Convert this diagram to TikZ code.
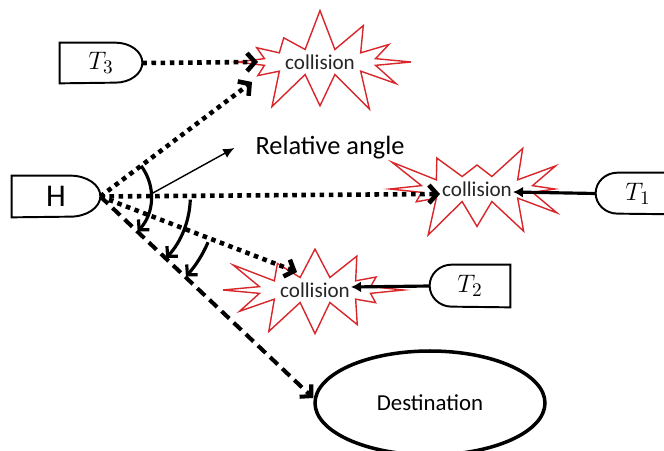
\documentclass[tikz,border=0pt]{standalone}
\usepackage{fontspec}
\setmainfont{Carlito}
\usetikzlibrary{shapes.symbols,shapes.geometric,arrows.meta}
\begin{document}
\begin{tikzpicture}[x=1cm,y=1cm,
  gatebox/.style={minimum width=1.7cm, minimum height=0.82cm, inner sep=0pt, font=\fontsize{15}{17}\selectfont},
  gateline/.style={line width=1.1pt},
  boom/.style={starburst, draw=CrashRed, fill=white, line width=0.8pt, starburst points=12,
    starburst point height=0.85cm, minimum width=4.0cm, minimum height=1.7cm, inner sep=1pt,
    font=\fontsize{12}{14}\selectfont, text=black!85},
  dotarrow/.style={line width=2.6pt, dash pattern=on 2.6pt off 2.6pt,
    -{Straight Barb[length=0.16cm, width=0.36cm]}},
  dasharrow/.style={line width=2.3pt, dash pattern=on 6pt off 3.5pt,
    -{Straight Barb[length=0.16cm, width=0.34cm]}},
  hitarrow/.style={line width=1.8pt, -{Latex[length=0.2cm, width=0.22cm]}},
  anglearc/.style={line width=1.8pt, -{Straight Barb[length=0.14cm, width=0.3cm]}}]
\definecolor{CrashRed}{HTML}{D8262B}
\useasboundingbox (0,0) rectangle (13.28,9);
\clip (0,0) rectangle (13.28,9);
% collision zones
\node[boom, random starburst=7] (hit3) at (6.4,7.76) {collision};
\node[boom, random starburst=23] (hit1) at (9.54,5.22) {collision};
\node[boom, random starburst=41] (hit2) at (6.3,3.2) {collision};
% vehicles
\node[gatebox, minimum width=1.76cm] (H) at (1.12,5.07) {\fontsize{18}{20}\selectfont H};
\draw[gateline] (H.north west) -- ([xshift=-0.6cm]H.north east)
  arc[start angle=90, end angle=-90, x radius=0.6cm, y radius=0.41cm] -- (H.south west) -- cycle;
\node[gatebox, minimum width=1.64cm, minimum height=0.8cm] (T3) at (2.02,7.74) {$T_3$};
\draw[gateline] (T3.north west) -- ([xshift=-0.54cm]T3.north east)
  arc[start angle=90, end angle=-90, x radius=0.54cm, y radius=0.4cm] -- (T3.south west) -- cycle;
\node[gatebox, minimum width=1.68cm] (T1) at (12.76,5.13) {$T_1$};
\draw[gateline] (T1.north east) -- ([xshift=0.44cm]T1.north west)
  arc[start angle=90, end angle=270, x radius=0.44cm, y radius=0.41cm] -- (T1.south east) -- cycle;
\node[gatebox, minimum width=1.6cm, minimum height=0.84cm] (T2) at (9.4,3.28) {$T_2$};
\draw[gateline] (T2.north east) -- ([xshift=0.44cm]T2.north west)
  arc[start angle=90, end angle=270, x radius=0.44cm, y radius=0.42cm] -- (T2.south east) -- cycle;
\node[ellipse, draw, line width=2pt, minimum width=4.6cm, minimum height=2.08cm,
  font=\fontsize{13}{15}\selectfont] (dest) at (8.6,0.94) {Destination};
\node[font=\fontsize{15}{18}\selectfont] (rel) at (6.6,6.04) {Relative angle};
% paths
\draw[dotarrow] (T3.east) -- ([xshift=-1.24cm]hit3.center);
\draw[dotarrow] (H.east) -- ([xshift=-1.36cm,yshift=-0.4cm]hit3.center);
\draw[dotarrow] (H.east) -- ([xshift=-0.74cm,yshift=-0.1cm]hit1.center);
\draw[dotarrow] (H.east) -- ([xshift=-0.36cm,yshift=0.36cm]hit2.center);
\draw[dasharrow] (H.east) -- ([yshift=0.1cm]dest.west);
\draw[hitarrow] (T1.west) -- ([xshift=0.72cm,yshift=-0.06cm]hit1.center);
\draw[hitarrow] (T2.west) -- ([xshift=0.72cm,yshift=0.06cm]hit2.center);
% angles
\draw[anglearc] ([shift={(37:1.02)}]H.east) arc[start angle=37, end angle=-43, radius=1.02];
\draw[anglearc] ([shift={(-2:1.8)}]H.east) arc[start angle=-2, end angle=-43, radius=1.8];
\draw[anglearc] ([shift={(-23:2.34)}]H.east) arc[start angle=-23, end angle=-43, radius=2.34];
\coordinate (ang) at ([xshift=0.96cm,yshift=0.02cm]H.east);
\draw[line width=0.8pt, -{Latex[length=0.22cm, width=0.2cm]}] (ang) -- ([xshift=-0.3cm]rel.west);
\end{tikzpicture}
\end{document}
